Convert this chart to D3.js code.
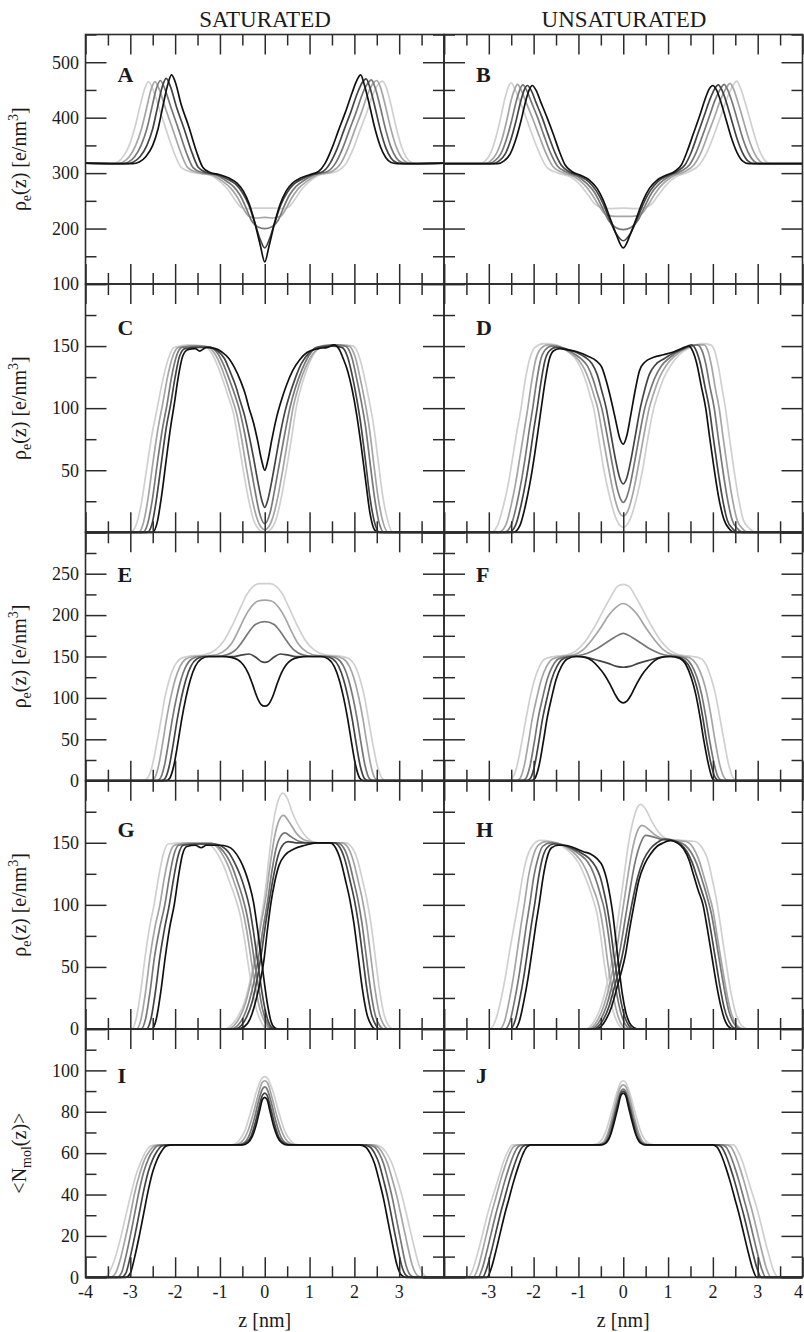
<!DOCTYPE html>
<html>
<head>
<meta charset="utf-8">
<title>Electron density profiles</title>
<script src="https://cdnjs.cloudflare.com/ajax/libs/d3/7.8.5/d3.min.js"></script>
<style>
  body { margin: 0; background: #fff; }
  svg text { font-family: "Liberation Serif", "Times New Roman", serif; fill: #1a1a1a; }
</style>
</head>
<body>
<div id="chart"></div>
<script>
// ---- data: [z (nm), value] per curve, index 0 = black ... 4 = lightest ----
var zMajor = [-4, -3, -2, -1, 0, 1, 2, 3, 4];
var zMinor = [-3.5, -2.5, -1.5, -0.5, 0.5, 1.5, 2.5, 3.5];
var zLabelsLeft = [-4, -3, -2, -1, 0, 1, 2, 3];
var zLabelsRight = [-3, -2, -1, 0, 1, 2, 3, 4];
var shades = ["#111111", "#444444", "#777777", "#a5a5a5", "#d0d0d0"];

var satA = [
  [[-4,318],[-2.95,317],[-2.8,320],[-2.65,330],[-2.5,350],[-2.38,380],[-2.27,422],[-2.17,458],[-2.08,477],[-1.98,460],[-1.87,425],[-1.7,385],[-1.52,338],[-1.38,310],[-1.22,301],[-1.0,297],[-0.8,291],[-0.62,282],[-0.48,268],[-0.35,245],[-0.22,210],[-0.1,170],[0,140],[0.1,170],[0.22,210],[0.35,245],[0.48,268],[0.62,282],[0.8,291],[1.0,297],[1.2,303],[1.35,318],[1.5,345],[1.65,378],[1.8,410],[1.95,445],[2.06,468],[2.14,477],[2.22,460],[2.33,425],[2.46,380],[2.58,348],[2.7,328],[2.82,319],[2.95,317],[4,318]],
  [[-4,318],[-3.08,317],[-2.93,320],[-2.78,330],[-2.63,350],[-2.5,380],[-2.39,420],[-2.29,455],[-2.2,471],[-2.1,455],[-1.98,422],[-1.8,380],[-1.62,336],[-1.48,310],[-1.3,301],[-1.05,297],[-0.85,290],[-0.65,280],[-0.5,265],[-0.36,243],[-0.22,210],[-0.1,180],[0,165],[0.1,180],[0.22,210],[0.36,243],[0.5,265],[0.65,280],[0.85,290],[1.05,297],[1.3,303],[1.46,318],[1.62,345],[1.77,378],[1.92,410],[2.07,445],[2.18,464],[2.26,470],[2.34,456],[2.45,422],[2.58,378],[2.7,346],[2.82,327],[2.94,319],[3.07,317],[4,318]],
  [[-4,318],[-3.18,317],[-3.04,320],[-2.9,330],[-2.76,350],[-2.63,380],[-2.52,418],[-2.42,452],[-2.33,467],[-2.23,452],[-2.1,420],[-1.92,378],[-1.74,335],[-1.6,310],[-1.4,301],[-1.1,297],[-0.9,288],[-0.7,276],[-0.55,260],[-0.42,238],[-0.3,215],[-0.15,203],[0,200],[0.15,203],[0.3,215],[0.42,238],[0.55,260],[0.7,276],[0.9,288],[1.1,297],[1.4,303],[1.58,318],[1.74,345],[1.89,378],[2.04,410],[2.19,445],[2.3,462],[2.38,468],[2.46,455],[2.57,422],[2.7,378],[2.82,346],[2.94,327],[3.06,319],[3.18,317],[4,318]],
  [[-4,318],[-3.3,317],[-3.16,320],[-3.02,330],[-2.88,350],[-2.75,380],[-2.64,416],[-2.54,450],[-2.45,465],[-2.35,450],[-2.22,418],[-2.04,376],[-1.86,334],[-1.72,310],[-1.5,301],[-1.15,296],[-0.95,286],[-0.75,272],[-0.6,255],[-0.47,235],[-0.35,222],[-0.2,219],[0,220],[0.2,219],[0.35,222],[0.47,235],[0.6,255],[0.75,272],[0.95,286],[1.15,296],[1.5,303],[1.7,318],[1.86,345],[2.01,378],[2.16,410],[2.31,445],[2.42,462],[2.5,467],[2.58,455],[2.69,422],[2.82,378],[2.94,346],[3.06,327],[3.18,319],[3.3,317],[4,318]],
  [[-4,318],[-3.42,317],[-3.28,320],[-3.14,332],[-3.0,355],[-2.88,388],[-2.77,425],[-2.68,452],[-2.6,465],[-2.5,452],[-2.37,420],[-2.2,378],[-2.02,336],[-1.86,310],[-1.6,301],[-1.2,296],[-1.0,285],[-0.8,268],[-0.65,250],[-0.52,238],[-0.4,236],[-0.2,237],[0,237],[0.2,237],[0.4,236],[0.52,238],[0.65,250],[0.8,268],[1.0,285],[1.2,296],[1.6,303],[1.82,318],[1.98,345],[2.13,378],[2.28,410],[2.43,445],[2.55,462],[2.63,466],[2.71,455],[2.82,422],[2.94,380],[3.05,348],[3.16,328],[3.28,319],[3.42,317],[4,318]]
];

var unsatB = [
  [[-4,317],[-2.8,317],[-2.66,322],[-2.52,335],[-2.4,360],[-2.28,395],[-2.17,432],[-2.09,452],[-2.03,458],[-1.95,450],[-1.84,428],[-1.7,400],[-1.56,370],[-1.42,338],[-1.3,315],[-1.15,303],[-0.95,296],[-0.75,287],[-0.58,272],[-0.44,250],[-0.3,220],[-0.16,190],[0,165],[0.16,190],[0.3,220],[0.44,250],[0.58,272],[0.75,287],[0.95,296],[1.15,303],[1.3,315],[1.42,338],[1.56,370],[1.7,402],[1.82,432],[1.92,452],[2.0,458],[2.08,450],[2.18,428],[2.3,395],[2.42,362],[2.54,337],[2.66,322],[2.8,317],[4,317]],
  [[-4,317],[-2.9,317],[-2.77,322],[-2.63,335],[-2.51,360],[-2.39,395],[-2.28,432],[-2.2,452],[-2.14,458],[-2.06,450],[-1.95,428],[-1.81,400],[-1.67,368],[-1.52,336],[-1.38,314],[-1.2,302],[-0.98,295],[-0.78,285],[-0.6,268],[-0.45,245],[-0.3,215],[-0.15,190],[0,178],[0.15,190],[0.3,215],[0.45,245],[0.6,268],[0.78,285],[0.98,295],[1.2,303],[1.38,315],[1.52,338],[1.66,370],[1.8,402],[1.93,432],[2.04,452],[2.12,459],[2.2,450],[2.3,428],[2.42,395],[2.54,362],[2.66,337],[2.78,322],[2.92,317],[4,317]],
  [[-4,317],[-3.0,317],[-2.87,322],[-2.73,335],[-2.61,360],[-2.49,395],[-2.38,432],[-2.3,452],[-2.24,459],[-2.16,450],[-2.05,428],[-1.91,400],[-1.77,368],[-1.62,336],[-1.47,313],[-1.27,302],[-1.02,294],[-0.82,282],[-0.64,265],[-0.48,240],[-0.33,215],[-0.17,202],[0,198],[0.17,202],[0.33,215],[0.48,240],[0.64,265],[0.82,282],[1.02,294],[1.27,303],[1.48,315],[1.63,338],[1.78,370],[1.92,402],[2.05,432],[2.17,452],[2.25,460],[2.33,450],[2.43,428],[2.55,395],[2.67,362],[2.79,337],[2.91,322],[3.04,317],[4,317]],
  [[-4,317],[-3.08,317],[-2.96,322],[-2.83,335],[-2.71,360],[-2.6,395],[-2.5,432],[-2.42,452],[-2.36,460],[-2.28,450],[-2.17,428],[-2.02,398],[-1.87,366],[-1.72,335],[-1.57,312],[-1.35,301],[-1.08,293],[-0.88,280],[-0.7,262],[-0.55,242],[-0.4,226],[-0.2,222],[0,222],[0.2,222],[0.4,226],[0.55,242],[0.7,262],[0.88,280],[1.08,293],[1.35,302],[1.58,315],[1.74,338],[1.89,370],[2.04,402],[2.17,432],[2.3,454],[2.38,462],[2.46,452],[2.56,428],[2.68,395],[2.8,362],[2.92,337],[3.04,322],[3.16,317],[4,317]],
  [[-4,317],[-3.2,317],[-3.08,322],[-2.96,336],[-2.85,362],[-2.74,398],[-2.64,435],[-2.56,456],[-2.5,463],[-2.42,452],[-2.3,428],[-2.15,396],[-2.0,362],[-1.85,332],[-1.7,310],[-1.45,300],[-1.15,292],[-0.95,278],[-0.78,260],[-0.63,244],[-0.5,238],[-0.3,236],[0,237],[0.3,236],[0.5,238],[0.63,244],[0.78,260],[0.95,278],[1.15,292],[1.45,302],[1.7,315],[1.87,338],[2.03,370],[2.18,404],[2.32,436],[2.45,458],[2.53,466],[2.61,455],[2.71,430],[2.83,396],[2.95,362],[3.06,337],[3.17,322],[3.3,317],[4,317]]
];

var satC = [
  [[-4,0],[-2.5,0],[-2.4,8],[-2.3,30],[-2.2,58],[-2.1,85],[-2.02,103],[-1.93,125],[-1.83,142],[-1.72,147],[-1.55,148],[-1.45,146],[-1.3,149],[-1.1,148],[-0.95,145],[-0.8,140],[-0.68,133],[-0.54,122],[-0.44,112],[-0.35,100],[-0.25,88],[-0.16,74],[-0.07,58],[0,50],[0.07,58],[0.16,75],[0.26,92],[0.36,105],[0.48,118],[0.62,130],[0.78,139],[0.95,145],[1.2,148],[1.4,149],[1.55,151],[1.65,148],[1.75,140],[1.85,130],[1.95,115],[2.05,95],[2.15,70],[2.25,42],[2.35,15],[2.45,2],[2.55,0],[4,0]],
  [[-4,0],[-2.62,0],[-2.52,6],[-2.42,26],[-2.31,55],[-2.2,84],[-2.1,103],[-2.0,125],[-1.9,142],[-1.78,148],[-1.5,149],[-1.25,149],[-1.05,146],[-0.9,140],[-0.78,130],[-0.65,118],[-0.55,106],[-0.45,94],[-0.35,78],[-0.25,60],[-0.15,40],[-0.06,25],[0,20],[0.06,25],[0.15,40],[0.25,60],[0.35,80],[0.45,97],[0.55,110],[0.68,124],[0.82,136],[1.0,145],[1.2,149],[1.5,150],[1.72,149],[1.86,140],[1.96,125],[2.05,108],[2.14,88],[2.24,60],[2.34,30],[2.45,8],[2.56,0],[4,0]],
  [[-4,0],[-2.72,0],[-2.62,6],[-2.51,26],[-2.4,55],[-2.28,84],[-2.18,103],[-2.08,125],[-1.97,142],[-1.85,149],[-1.5,150],[-1.2,149],[-1.05,144],[-0.92,135],[-0.8,124],[-0.68,112],[-0.56,98],[-0.45,80],[-0.34,58],[-0.23,36],[-0.12,16],[0,7],[0.12,16],[0.23,36],[0.34,58],[0.45,80],[0.56,100],[0.68,116],[0.82,130],[0.98,142],[1.15,149],[1.5,151],[1.8,150],[1.95,140],[2.05,124],[2.15,106],[2.25,85],[2.35,56],[2.45,28],[2.55,8],[2.66,0],[4,0]],
  [[-4,0],[-2.82,0],[-2.72,6],[-2.61,26],[-2.5,55],[-2.38,84],[-2.28,103],[-2.17,125],[-2.05,142],[-1.93,149],[-1.6,150],[-1.25,149],[-1.1,143],[-0.98,134],[-0.86,122],[-0.75,110],[-0.63,96],[-0.52,76],[-0.41,52],[-0.3,30],[-0.18,12],[-0.08,4],[0,2],[0.08,4],[0.18,12],[0.3,30],[0.41,52],[0.52,76],[0.63,100],[0.76,118],[0.9,132],[1.06,143],[1.25,149],[1.6,151],[1.88,150],[2.02,141],[2.13,124],[2.23,106],[2.33,85],[2.43,56],[2.53,28],[2.64,8],[2.76,0],[4,0]],
  [[-4,0],[-3.0,0],[-2.88,5],[-2.76,22],[-2.64,50],[-2.52,78],[-2.4,100],[-2.28,122],[-2.15,140],[-2.02,149],[-1.7,151],[-1.35,150],[-1.18,144],[-1.05,134],[-0.93,122],[-0.82,110],[-0.7,96],[-0.59,74],[-0.48,50],[-0.37,28],[-0.25,10],[-0.12,2],[0,0],[0.12,2],[0.25,10],[0.37,28],[0.48,50],[0.59,74],[0.7,100],[0.82,118],[0.96,133],[1.1,144],[1.3,150],[1.7,151],[1.98,150],[2.12,140],[2.23,124],[2.33,106],[2.43,86],[2.53,58],[2.63,30],[2.74,10],[2.86,0],[4,0]]
];

var unsatD = [
  [[-4,0],[-2.45,0],[-2.3,6],[-2.18,22],[-2.08,40],[-1.98,62],[-1.9,82],[-1.83,100],[-1.75,120],[-1.66,138],[-1.56,146],[-1.42,148],[-1.25,147],[-1.0,145],[-0.8,142],[-0.6,138],[-0.48,133],[-0.38,122],[-0.28,108],[-0.18,92],[-0.08,76],[0,71],[0.08,78],[0.17,95],[0.27,115],[0.36,130],[0.48,137],[0.68,141],[0.9,143],[1.1,145],[1.3,148],[1.46,150],[1.55,146],[1.64,136],[1.74,118],[1.84,100],[1.93,76],[2.02,53],[2.12,30],[2.25,10],[2.36,3],[2.47,0],[4,0]],
  [[-4,0],[-2.55,0],[-2.4,6],[-2.28,22],[-2.18,40],[-2.08,62],[-2.0,82],[-1.92,100],[-1.84,120],[-1.75,138],[-1.65,146],[-1.5,149],[-1.3,148],[-1.05,145],[-0.85,141],[-0.7,136],[-0.58,127],[-0.48,114],[-0.38,100],[-0.28,80],[-0.18,60],[-0.08,44],[0,39],[0.08,44],[0.18,60],[0.28,80],[0.38,100],[0.48,115],[0.58,127],[0.72,135],[0.92,140],[1.15,145],[1.35,148],[1.52,151],[1.62,147],[1.72,136],[1.82,118],[1.92,100],[2.01,76],[2.1,53],[2.2,30],[2.32,10],[2.44,3],[2.56,0],[4,0]],
  [[-4,0],[-2.65,0],[-2.5,6],[-2.38,22],[-2.28,40],[-2.18,62],[-2.1,82],[-2.02,100],[-1.94,120],[-1.85,138],[-1.74,147],[-1.6,150],[-1.4,149],[-1.15,145],[-0.95,140],[-0.8,134],[-0.68,124],[-0.58,112],[-0.48,100],[-0.37,80],[-0.26,58],[-0.14,36],[-0.05,26],[0,24],[0.05,26],[0.14,36],[0.26,58],[0.37,80],[0.48,100],[0.58,112],[0.7,124],[0.85,134],[1.05,141],[1.3,147],[1.5,150],[1.65,151],[1.75,147],[1.84,136],[1.93,118],[2.03,100],[2.12,76],[2.21,53],[2.31,30],[2.43,10],[2.55,3],[2.67,0],[4,0]],
  [[-4,0],[-2.78,0],[-2.62,6],[-2.5,22],[-2.4,40],[-2.3,62],[-2.21,82],[-2.13,100],[-2.05,120],[-1.96,138],[-1.84,148],[-1.68,151],[-1.45,150],[-1.2,145],[-1.0,139],[-0.86,131],[-0.75,121],[-0.66,111],[-0.57,100],[-0.46,78],[-0.34,54],[-0.22,32],[-0.1,17],[0,13],[0.1,17],[0.22,32],[0.34,54],[0.46,78],[0.58,100],[0.68,112],[0.8,124],[0.95,134],[1.15,142],[1.4,148],[1.65,151],[1.8,151],[1.89,146],[1.97,134],[2.05,117],[2.14,100],[2.23,76],[2.32,53],[2.42,30],[2.54,10],[2.66,3],[2.78,0],[4,0]],
  [[-4,0],[-2.95,0],[-2.8,6],[-2.67,22],[-2.56,40],[-2.46,62],[-2.37,82],[-2.28,100],[-2.2,120],[-2.1,138],[-1.97,149],[-1.78,152],[-1.5,151],[-1.25,146],[-1.05,139],[-0.92,130],[-0.82,120],[-0.74,110],[-0.66,100],[-0.55,76],[-0.43,50],[-0.3,28],[-0.16,11],[-0.06,5],[0,4],[0.06,5],[0.16,11],[0.3,28],[0.43,50],[0.55,76],[0.68,100],[0.78,112],[0.9,124],[1.05,134],[1.25,143],[1.5,149],[1.75,152],[1.95,151],[2.04,146],[2.12,134],[2.2,117],[2.28,100],[2.37,76],[2.46,53],[2.56,30],[2.68,10],[2.82,3],[2.98,0],[4,0]]
];

var satE = [
  [[-4,0],[-2.2,0],[-2.12,3],[-2.03,18],[-1.94,45],[-1.85,75],[-1.76,100],[-1.66,122],[-1.55,138],[-1.42,147],[-1.25,150],[-0.95,150],[-0.75,149],[-0.6,146],[-0.48,140],[-0.37,130],[-0.27,116],[-0.18,102],[-0.08,92],[0,90],[0.08,92],[0.18,102],[0.27,116],[0.37,130],[0.48,140],[0.6,146],[0.75,149],[0.95,150],[1.25,150],[1.42,147],[1.55,138],[1.66,122],[1.76,100],[1.85,75],[1.94,45],[2.03,18],[2.12,3],[2.2,0],[4,0]],
  [[-4,0],[-2.3,0],[-2.22,3],[-2.13,18],[-2.04,45],[-1.95,75],[-1.86,100],[-1.76,122],[-1.65,138],[-1.52,147],[-1.35,150],[-1.0,150],[-0.7,150],[-0.5,152],[-0.35,153],[-0.2,149],[-0.08,144],[0,143],[0.08,144],[0.2,149],[0.35,153],[0.5,152],[0.7,150],[1.0,150],[1.35,150],[1.52,147],[1.65,138],[1.76,122],[1.86,100],[1.95,75],[2.04,45],[2.13,18],[2.22,3],[2.3,0],[4,0]],
  [[-4,0],[-2.42,0],[-2.33,3],[-2.24,18],[-2.15,45],[-2.06,75],[-1.97,100],[-1.87,122],[-1.76,138],[-1.63,147],[-1.45,150],[-1.1,150],[-0.85,152],[-0.65,158],[-0.5,168],[-0.35,180],[-0.2,189],[0,192],[0.2,189],[0.35,180],[0.5,168],[0.65,158],[0.85,152],[1.1,150],[1.45,150],[1.63,147],[1.76,138],[1.87,122],[1.97,100],[2.06,75],[2.15,45],[2.24,18],[2.33,3],[2.42,0],[4,0]],
  [[-4,0],[-2.55,0],[-2.46,3],[-2.37,18],[-2.28,45],[-2.19,75],[-2.1,100],[-2.0,122],[-1.89,138],[-1.76,147],[-1.58,150],[-1.2,151],[-0.95,155],[-0.75,165],[-0.6,180],[-0.45,197],[-0.3,210],[-0.15,217],[0,218],[0.15,217],[0.3,210],[0.45,197],[0.6,180],[0.75,165],[0.95,155],[1.2,151],[1.58,150],[1.76,147],[1.89,138],[2.0,122],[2.1,100],[2.19,75],[2.28,45],[2.37,18],[2.46,3],[2.55,0],[4,0]],
  [[-4,0],[-2.72,0],[-2.62,3],[-2.52,16],[-2.42,42],[-2.32,72],[-2.23,100],[-2.13,122],[-2.02,138],[-1.89,147],[-1.72,150],[-1.35,152],[-1.1,158],[-0.9,170],[-0.72,188],[-0.55,208],[-0.4,225],[-0.25,235],[-0.12,238],[0,238],[0.12,238],[0.25,235],[0.4,225],[0.55,208],[0.72,188],[0.9,170],[1.1,158],[1.35,152],[1.72,150],[1.89,147],[2.02,138],[2.13,122],[2.23,100],[2.32,72],[2.42,42],[2.52,16],[2.62,3],[2.72,0],[4,0]]
];

var unsatF = [
  [[-4,0],[-2.05,0],[-1.97,3],[-1.88,18],[-1.79,45],[-1.7,75],[-1.6,100],[-1.5,122],[-1.38,138],[-1.25,147],[-1.05,150],[-0.85,149],[-0.7,145],[-0.55,137],[-0.42,128],[-0.3,117],[-0.18,104],[-0.08,96],[0,94],[0.08,96],[0.18,104],[0.3,117],[0.42,128],[0.55,137],[0.7,145],[0.85,149],[1.05,150],[1.25,148],[1.4,140],[1.52,124],[1.62,104],[1.71,78],[1.8,48],[1.9,20],[1.98,4],[2.05,0],[4,0]],
  [[-4,0],[-2.15,0],[-2.07,3],[-1.98,18],[-1.89,45],[-1.8,75],[-1.7,100],[-1.6,122],[-1.48,138],[-1.35,147],[-1.15,150],[-0.95,150],[-0.75,148],[-0.55,145],[-0.35,142],[-0.15,138],[0,137],[0.15,138],[0.35,142],[0.55,145],[0.75,148],[0.95,150],[1.15,150],[1.3,148],[1.45,140],[1.58,124],[1.68,104],[1.77,78],[1.86,48],[1.96,20],[2.05,4],[2.14,0],[4,0]],
  [[-4,0],[-2.25,0],[-2.17,3],[-2.08,18],[-1.99,45],[-1.9,75],[-1.8,100],[-1.7,122],[-1.58,138],[-1.45,147],[-1.25,150],[-1.0,151],[-0.8,154],[-0.6,159],[-0.4,166],[-0.2,173],[0,178],[0.2,173],[0.4,166],[0.6,159],[0.8,154],[1.0,151],[1.22,150],[1.38,148],[1.52,140],[1.65,124],[1.75,104],[1.84,78],[1.93,48],[2.03,20],[2.12,4],[2.22,0],[4,0]],
  [[-4,0],[-2.38,0],[-2.3,3],[-2.21,18],[-2.12,45],[-2.03,75],[-1.93,100],[-1.83,122],[-1.71,138],[-1.58,147],[-1.38,150],[-1.1,152],[-0.9,158],[-0.7,170],[-0.5,185],[-0.32,200],[-0.15,210],[0,214],[0.15,210],[0.32,200],[0.5,185],[0.7,170],[0.9,158],[1.1,152],[1.35,150],[1.5,148],[1.64,140],[1.77,124],[1.87,104],[1.96,78],[2.05,48],[2.15,20],[2.25,4],[2.35,0],[4,0]],
  [[-4,0],[-2.58,0],[-2.48,3],[-2.38,16],[-2.28,42],[-2.18,72],[-2.08,100],[-1.98,122],[-1.87,138],[-1.75,147],[-1.55,150],[-1.25,152],[-1.05,157],[-0.85,168],[-0.65,185],[-0.45,205],[-0.28,222],[-0.12,235],[0,237],[0.12,235],[0.28,222],[0.45,205],[0.65,185],[0.85,168],[1.05,157],[1.25,152],[1.55,150],[1.72,148],[1.85,140],[1.96,124],[2.06,104],[2.15,78],[2.25,48],[2.35,20],[2.45,4],[2.56,0],[4,0]]
];

// G and H: the two leaflets drawn as separate curves
var satGlow = [
  [[-4,0],[-2.52,0],[-2.42,8],[-2.32,30],[-2.22,58],[-2.12,82],[-2.02,100],[-1.93,122],[-1.84,140],[-1.74,147],[-1.55,148],[-1.42,146],[-1.3,148],[-1.0,148],[-0.83,147],[-0.7,144],[-0.55,136],[-0.45,128],[-0.35,117],[-0.25,102],[-0.16,80],[-0.08,58],[0,35],[0.07,18],[0.14,6],[0.22,1],[0.3,0],[4,0]],
  [[-4,0],[-2.64,0],[-2.54,8],[-2.44,30],[-2.34,58],[-2.23,82],[-2.13,100],[-2.03,122],[-1.93,140],[-1.82,148],[-1.5,149],[-1.1,149],[-0.95,147],[-0.8,142],[-0.66,133],[-0.55,124],[-0.44,112],[-0.34,98],[-0.25,78],[-0.16,55],[-0.08,34],[0,17],[0.08,6],[0.16,1],[0.24,0],[4,0]],
  [[-4,0],[-2.76,0],[-2.66,8],[-2.56,30],[-2.46,58],[-2.34,82],[-2.23,100],[-2.13,122],[-2.03,140],[-1.92,148],[-1.6,149],[-1.15,149],[-1.0,146],[-0.86,140],[-0.73,131],[-0.62,120],[-0.51,108],[-0.41,94],[-0.31,74],[-0.22,52],[-0.13,32],[-0.05,16],[0.04,6],[0.12,1],[0.2,0],[4,0]],
  [[-4,0],[-2.86,0],[-2.76,8],[-2.66,30],[-2.56,58],[-2.45,82],[-2.34,100],[-2.24,122],[-2.13,140],[-2.02,148],[-1.7,150],[-1.2,150],[-1.05,146],[-0.92,139],[-0.8,130],[-0.68,118],[-0.57,106],[-0.47,92],[-0.37,72],[-0.28,50],[-0.19,30],[-0.1,15],[0,6],[0.08,1],[0.16,0],[4,0]],
  [[-4,0],[-2.97,0],[-2.87,8],[-2.77,30],[-2.67,58],[-2.57,82],[-2.47,100],[-2.37,122],[-2.27,140],[-2.16,149],[-1.8,150],[-1.3,150],[-1.15,146],[-1.02,139],[-0.9,130],[-0.78,118],[-0.66,106],[-0.55,92],[-0.45,72],[-0.36,50],[-0.27,30],[-0.18,15],[-0.08,6],[0,1],[0.08,0],[4,0]]
];
var satGup = [
  [[-4,0],[-0.6,0],[-0.45,2],[-0.33,8],[-0.22,20],[-0.12,35],[-0.02,55],[0.06,80],[0.14,102],[0.22,118],[0.32,132],[0.45,140],[0.65,145],[0.9,148],[1.15,150],[1.46,150],[1.58,146],[1.7,135],[1.8,120],[1.9,104],[1.99,85],[2.08,60],[2.18,32],[2.28,12],[2.38,3],[2.46,0],[4,0]],
  [[-4,0],[-0.66,0],[-0.52,3],[-0.4,10],[-0.28,22],[-0.17,40],[-0.07,62],[0.02,85],[0.1,103],[0.2,124],[0.3,140],[0.42,149],[0.52,151],[0.7,150],[1.25,150],[1.55,150],[1.68,146],[1.8,135],[1.9,120],[2.0,104],[2.09,85],[2.18,60],[2.28,32],[2.38,12],[2.48,3],[2.56,0],[4,0]],
  [[-4,0],[-0.74,0],[-0.6,3],[-0.47,10],[-0.35,22],[-0.23,40],[-0.12,62],[-0.02,85],[0.06,102],[0.15,125],[0.25,145],[0.35,155],[0.45,158],[0.58,155],[0.78,151],[1.0,150],[1.62,150],[1.76,146],[1.88,135],[1.98,120],[2.08,104],[2.17,85],[2.26,60],[2.36,32],[2.46,12],[2.56,3],[2.65,0],[4,0]],
  [[-4,0],[-0.82,0],[-0.68,3],[-0.55,10],[-0.42,22],[-0.3,40],[-0.18,62],[-0.08,85],[0.02,105],[0.12,132],[0.22,155],[0.32,168],[0.42,172],[0.54,167],[0.7,158],[0.9,152],[1.2,150],[1.72,150],[1.86,146],[1.98,135],[2.08,120],[2.18,104],[2.27,85],[2.36,60],[2.46,32],[2.56,12],[2.66,3],[2.76,0],[4,0]],
  [[-4,0],[-0.9,0],[-0.75,3],[-0.6,10],[-0.45,22],[-0.32,40],[-0.2,62],[-0.1,85],[0.0,108],[0.1,140],[0.2,168],[0.3,184],[0.4,190],[0.5,186],[0.62,174],[0.78,162],[0.95,154],[1.15,150],[1.8,150],[1.95,146],[2.08,135],[2.18,120],[2.28,104],[2.37,85],[2.46,60],[2.56,32],[2.66,12],[2.76,3],[2.86,0],[4,0]]
];

var unsatHlow = [
  [[-4,0],[-2.42,0],[-2.32,6],[-2.22,22],[-2.12,42],[-2.03,64],[-1.95,84],[-1.87,102],[-1.79,122],[-1.7,138],[-1.6,146],[-1.45,148],[-1.3,148],[-1.1,146],[-0.9,143],[-0.73,141],[-0.58,137],[-0.46,131],[-0.38,122],[-0.3,108],[-0.23,92],[-0.16,70],[-0.09,48],[-0.02,28],[0.06,13],[0.14,5],[0.24,1],[0.32,0],[4,0]],
  [[-4,0],[-2.52,0],[-2.42,6],[-2.32,22],[-2.22,42],[-2.13,64],[-2.05,84],[-1.97,102],[-1.89,122],[-1.8,138],[-1.7,146],[-1.55,149],[-1.35,148],[-1.1,145],[-0.9,141],[-0.75,137],[-0.62,131],[-0.52,123],[-0.44,112],[-0.37,100],[-0.29,82],[-0.21,60],[-0.13,40],[-0.05,22],[0.03,10],[0.12,3],[0.22,0],[4,0]],
  [[-4,0],[-2.64,0],[-2.53,6],[-2.43,22],[-2.33,42],[-2.24,64],[-2.16,84],[-2.08,102],[-2.0,122],[-1.9,138],[-1.8,147],[-1.62,150],[-1.4,149],[-1.15,145],[-0.95,140],[-0.8,135],[-0.68,127],[-0.58,117],[-0.5,107],[-0.42,96],[-0.34,78],[-0.26,56],[-0.18,36],[-0.1,20],[-0.01,8],[0.08,2],[0.18,0],[4,0]],
  [[-4,0],[-2.76,0],[-2.65,6],[-2.55,22],[-2.45,42],[-2.36,64],[-2.28,84],[-2.2,102],[-2.12,122],[-2.02,138],[-1.9,148],[-1.72,151],[-1.5,150],[-1.25,146],[-1.05,140],[-0.9,133],[-0.78,124],[-0.68,114],[-0.58,104],[-0.5,92],[-0.42,74],[-0.34,52],[-0.25,32],[-0.16,16],[-0.07,6],[0.03,1],[0.12,0],[4,0]],
  [[-4,0],[-2.98,0],[-2.86,6],[-2.74,22],[-2.63,42],[-2.53,64],[-2.43,84],[-2.34,102],[-2.25,122],[-2.15,138],[-2.02,148],[-1.85,152],[-1.6,151],[-1.35,147],[-1.15,141],[-1.0,134],[-0.88,125],[-0.77,115],[-0.67,104],[-0.58,92],[-0.5,74],[-0.42,52],[-0.33,32],[-0.24,16],[-0.14,6],[-0.04,1],[0.05,0],[4,0]]
];
var unsatHup = [
  [[-4,0],[-0.62,0],[-0.5,2],[-0.38,8],[-0.26,18],[-0.15,32],[-0.05,45],[0.05,60],[0.14,80],[0.24,100],[0.35,120],[0.48,133],[0.61,141],[0.75,147],[0.9,150],[1.05,152],[1.2,150],[1.35,145],[1.47,136],[1.57,124],[1.67,112],[1.78,100],[1.88,80],[1.98,58],[2.08,36],[2.18,18],[2.28,6],[2.38,1],[2.46,0],[4,0]],
  [[-4,0],[-0.68,0],[-0.56,2],[-0.44,8],[-0.32,18],[-0.21,32],[-0.1,47],[0.0,63],[0.1,83],[0.2,102],[0.32,122],[0.45,136],[0.6,145],[0.75,150],[0.92,153],[1.1,152],[1.28,149],[1.42,143],[1.54,134],[1.65,122],[1.76,110],[1.86,98],[1.96,78],[2.06,56],[2.16,34],[2.26,16],[2.36,6],[2.46,1],[2.54,0],[4,0]],
  [[-4,0],[-0.74,0],[-0.62,2],[-0.5,8],[-0.38,18],[-0.27,32],[-0.16,48],[-0.06,66],[0.04,88],[0.14,110],[0.25,132],[0.37,148],[0.5,156],[0.65,155],[0.82,153],[1.0,152],[1.2,151],[1.38,148],[1.52,142],[1.64,133],[1.75,121],[1.86,108],[1.96,94],[2.06,74],[2.16,52],[2.26,31],[2.36,14],[2.46,5],[2.56,1],[2.64,0],[4,0]],
  [[-4,0],[-0.8,0],[-0.68,2],[-0.56,8],[-0.44,18],[-0.33,32],[-0.22,50],[-0.12,70],[-0.02,94],[0.08,118],[0.19,142],[0.3,158],[0.42,164],[0.56,161],[0.72,156],[0.9,153],[1.15,152],[1.4,151],[1.56,146],[1.68,137],[1.79,124],[1.9,110],[2.0,96],[2.1,74],[2.2,52],[2.3,31],[2.4,14],[2.5,5],[2.6,1],[2.7,0],[4,0]],
  [[-4,0],[-0.86,0],[-0.74,2],[-0.62,8],[-0.5,18],[-0.39,32],[-0.28,50],[-0.18,72],[-0.08,98],[0.02,124],[0.12,150],[0.22,168],[0.31,178],[0.39,181],[0.5,177],[0.64,167],[0.8,158],[1.0,153],[1.3,152],[1.6,151],[1.76,146],[1.88,137],[1.99,120],[2.1,100],[2.2,76],[2.3,52],[2.4,30],[2.5,14],[2.6,5],[2.7,1],[2.78,0],[4,0]]
];

var satI = [
  [[-4,0],[-3.1,0],[-3.0,2],[-2.9,10],[-2.8,20],[-2.7,31],[-2.6,42],[-2.5,51],[-2.4,57],[-2.3,61],[-2.2,63.5],[-2.05,64],[-0.5,64],[-0.38,65],[-0.28,68],[-0.2,73],[-0.12,80],[-0.05,86],[0,87],[0.05,86],[0.12,80],[0.2,73],[0.28,68],[0.38,65],[0.5,64],[2.1,64],[2.25,63],[2.35,60],[2.45,55],[2.55,47],[2.65,38],[2.75,27],[2.85,16],[2.95,6],[3.05,1],[3.15,0],[4,0]],
  [[-4,0],[-3.2,0],[-3.1,2],[-3.0,10],[-2.9,20],[-2.8,31],[-2.7,42],[-2.6,51],[-2.5,57],[-2.4,61],[-2.3,63.5],[-2.15,64],[-0.55,64],[-0.42,65],[-0.31,68],[-0.22,74],[-0.13,82],[-0.05,88],[0,89],[0.05,88],[0.13,82],[0.22,74],[0.31,68],[0.42,65],[0.55,64],[2.2,64],[2.35,63],[2.45,60],[2.55,55],[2.65,47],[2.75,38],[2.85,27],[2.95,16],[3.05,6],[3.15,1],[3.25,0],[4,0]],
  [[-4,0],[-3.3,0],[-3.2,2],[-3.1,10],[-3.0,20],[-2.9,31],[-2.8,42],[-2.7,51],[-2.6,57],[-2.5,61],[-2.4,63.5],[-2.25,64],[-0.6,64],[-0.46,65],[-0.34,69],[-0.24,76],[-0.14,85],[-0.05,91],[0,92],[0.05,91],[0.14,85],[0.24,76],[0.34,69],[0.46,65],[0.6,64],[2.3,64],[2.45,63],[2.55,60],[2.65,55],[2.75,47],[2.85,38],[2.95,27],[3.05,16],[3.15,6],[3.25,1],[3.35,0],[4,0]],
  [[-4,0],[-3.45,0],[-3.33,2],[-3.22,9],[-3.11,19],[-3.0,30],[-2.9,41],[-2.79,50],[-2.68,57],[-2.57,61],[-2.46,63.5],[-2.32,64],[-0.68,64],[-0.52,65.5],[-0.39,70],[-0.27,78],[-0.16,87],[-0.06,94],[0,95],[0.06,94],[0.16,87],[0.27,78],[0.39,70],[0.52,65.5],[0.68,64],[2.38,64],[2.52,63],[2.63,60],[2.74,55],[2.85,47],[2.96,38],[3.07,27],[3.18,16],[3.29,6],[3.4,1],[3.5,0],[4,0]],
  [[-4,0],[-3.6,0],[-3.48,2],[-3.36,8],[-3.24,17],[-3.12,28],[-3.0,39],[-2.88,49],[-2.76,56],[-2.65,61],[-2.54,63.5],[-2.4,64],[-0.75,64],[-0.58,66],[-0.44,71],[-0.31,80],[-0.18,90],[-0.07,96],[0,97],[0.07,96],[0.18,90],[0.31,80],[0.44,71],[0.58,66],[0.75,64],[2.45,64],[2.6,63],[2.72,60],[2.84,55],[2.96,47],[3.08,38],[3.2,27],[3.32,16],[3.44,6],[3.56,1],[3.66,0],[4,0]]
];

var unsatJ = [
  [[-4,0],[-3.04,0],[-2.95,4],[-2.85,12],[-2.75,21],[-2.65,30],[-2.55,38],[-2.45,46],[-2.35,53],[-2.25,59],[-2.15,63],[-2.05,64],[-0.5,64],[-0.38,65],[-0.28,69],[-0.2,75],[-0.12,82],[-0.05,88],[0,89],[0.05,88],[0.12,82],[0.2,75],[0.28,69],[0.38,65],[0.5,64],[1.99,64],[2.09,63],[2.19,59],[2.29,53],[2.39,46],[2.49,38],[2.59,30],[2.69,21],[2.79,12],[2.89,4],[2.98,0],[4,0]],
  [[-4,0],[-3.14,0],[-3.05,4],[-2.95,12],[-2.85,21],[-2.75,30],[-2.65,38],[-2.55,46],[-2.45,53],[-2.35,59],[-2.25,63],[-2.15,64],[-0.52,64],[-0.4,65],[-0.29,69],[-0.21,76],[-0.13,83],[-0.05,89],[0,90],[0.05,89],[0.13,83],[0.21,76],[0.29,69],[0.4,65],[0.52,64],[2.09,64],[2.19,63],[2.29,59],[2.39,53],[2.49,46],[2.59,38],[2.69,30],[2.79,21],[2.89,12],[2.99,4],[3.08,0],[4,0]],
  [[-4,0],[-3.24,0],[-3.15,4],[-3.05,12],[-2.95,21],[-2.85,30],[-2.75,38],[-2.65,46],[-2.55,53],[-2.45,59],[-2.35,63],[-2.25,64],[-0.55,64],[-0.42,65],[-0.31,70],[-0.22,77],[-0.14,84],[-0.05,90],[0,91],[0.05,90],[0.14,84],[0.22,77],[0.31,70],[0.42,65],[0.55,64],[2.19,64],[2.29,63],[2.39,59],[2.49,53],[2.59,46],[2.69,38],[2.79,30],[2.89,21],[2.99,12],[3.09,4],[3.18,0],[4,0]],
  [[-4,0],[-3.35,0],[-3.25,4],[-3.15,12],[-3.05,21],[-2.95,30],[-2.85,38],[-2.75,46],[-2.65,53],[-2.55,59],[-2.45,63],[-2.35,64],[-0.6,64],[-0.46,65],[-0.34,70],[-0.24,78],[-0.15,86],[-0.06,92],[0,93],[0.06,92],[0.15,86],[0.24,78],[0.34,70],[0.46,65],[0.6,64],[2.3,64],[2.4,63],[2.5,59],[2.6,53],[2.7,46],[2.8,38],[2.9,30],[3.0,21],[3.1,12],[3.2,4],[3.3,0],[4,0]],
  [[-4,0],[-3.47,0],[-3.37,3],[-3.27,10],[-3.17,18],[-3.07,27],[-2.97,35],[-2.87,42],[-2.77,49],[-2.67,56],[-2.57,61],[-2.47,64],[-0.68,64],[-0.52,65.5],[-0.38,71],[-0.26,80],[-0.16,88],[-0.06,94],[0,95],[0.06,94],[0.16,88],[0.26,80],[0.38,71],[0.52,65.5],[0.68,64],[2.46,64],[2.56,61],[2.66,56],[2.76,49],[2.86,42],[2.96,35],[3.06,27],[3.16,18],[3.26,10],[3.36,3],[3.46,0],[4,0]]
];

// ---- layout ----
var width = 804, height = 1332;
var rowEdges = [34.5, 284, 532.3, 780.7, 1029, 1277.3];
var colEdges = [[85.5, 444], [444, 802.5]];
var letterDy = [47.5, 51, 50, 56, 54];

var panels = [
  {id: "A", col: 0, row: 0, dom: [100, 550], major: 100, labels: [100, 200, 300, 400, 500], series: satA},
  {id: "B", col: 1, row: 0, dom: [100, 550], major: 100, series: unsatB},
  {id: "C", col: 0, row: 1, dom: [0, 200], major: 50, labels: [50, 100, 150], series: satC},
  {id: "D", col: 1, row: 1, dom: [0, 200], major: 50, series: unsatD},
  {id: "E", col: 0, row: 2, dom: [0, 300], major: 50, labels: [0, 50, 100, 150, 200, 250], series: satE},
  {id: "F", col: 1, row: 2, dom: [0, 300], major: 50, series: unsatF},
  {id: "G", col: 0, row: 3, dom: [0, 200], major: 50, labels: [0, 50, 100, 150], series: satGlow.concat(satGup)},
  {id: "H", col: 1, row: 3, dom: [0, 200], major: 50, series: unsatHlow.concat(unsatHup)},
  {id: "I", col: 0, row: 4, dom: [0, 120], major: 20, labels: [0, 20, 40, 60, 80, 100], series: satI},
  {id: "J", col: 1, row: 4, dom: [0, 120], major: 20, series: unsatJ}
];

var svg = d3.select("#chart").append("svg")
  .attr("width", width).attr("height", height);

// column headings
svg.append("text").attr("x", 265).attr("y", 27).attr("text-anchor", "middle")
  .style("font-size", "23px").text("SATURATED");
svg.append("text").attr("x", 624).attr("y", 27).attr("text-anchor", "middle")
  .style("font-size", "23px").text("UNSATURATED");

var line = d3.line().curve(d3.curveMonotoneX);

panels.forEach(function(p) {
  var x = d3.scaleLinear().domain([-4, 4]).range(colEdges[p.col]);
  var y = d3.scaleLinear().domain(p.dom).range([rowEdges[p.row + 1], rowEdges[p.row]]);
  var g = svg.append("g");
  var x0 = x.range()[0], x1 = x.range()[1];
  var yb = y.range()[0], yt = y.range()[1];

  // curves, lightest first
  var n = p.series.length;
  var order = d3.range(n).sort(function(a, b) { return (b % 5) - (a % 5); });
  line.x(function(d) { return x(d[0]); }).y(function(d) { return y(d[1]); });
  order.forEach(function(i) {
    g.append("path").datum(p.series[i])
      .attr("d", line)
      .attr("fill", "none")
      .attr("stroke", shades[i % 5])
      .attr("stroke-width", 1.7)
      .attr("stroke-linejoin", "round");
  });

  // inward ticks on all four sides
  var yMaj = d3.range(p.dom[0], p.dom[1] + 1e-6, p.major);
  var yMin = d3.range(p.dom[0] + p.major / 2, p.dom[1] + 1e-6, p.major);
  function ax(axis, tx, ty) {
    g.append("g").attr("transform", "translate(" + tx + "," + ty + ")")
      .attr("color", "#2b2b2b")
      .call(axis)
      .call(function(s) { s.select(".domain").remove(); s.selectAll("line").attr("stroke-width", 1.5); });
  }
  ax(d3.axisBottom(x).tickValues(zMajor).tickSize(-20).tickFormat(""), 0, yb);
  ax(d3.axisBottom(x).tickValues(zMinor).tickSize(-11).tickFormat(""), 0, yb);
  ax(d3.axisTop(x).tickValues(zMajor).tickSize(-20).tickFormat(""), 0, yt);
  ax(d3.axisTop(x).tickValues(zMinor).tickSize(-11).tickFormat(""), 0, yt);
  ax(d3.axisLeft(y).tickValues(yMaj).tickSize(-21).tickFormat(""), x0, 0);
  ax(d3.axisLeft(y).tickValues(yMin).tickSize(-11).tickFormat(""), x0, 0);
  ax(d3.axisRight(y).tickValues(yMaj).tickSize(-21).tickFormat(""), x1, 0);
  ax(d3.axisRight(y).tickValues(yMin).tickSize(-11).tickFormat(""), x1, 0);

  g.append("rect").attr("x", x0).attr("y", yt)
    .attr("width", x1 - x0).attr("height", yb - yt)
    .attr("fill", "none").attr("stroke", "#2b2b2b").attr("stroke-width", 1.6);

  // panel letter
  g.append("text").attr("x", x0 + 32).attr("y", yt + letterDy[p.row])
    .style("font-size", "22px").style("font-weight", "bold").text(p.id);

  // y tick labels (left column only)
  if (p.labels) {
    p.labels.forEach(function(v) {
      g.append("text").attr("x", 79).attr("y", y(v)).attr("dy", "0.35em")
        .attr("text-anchor", "end").style("font-size", "18px").text(v);
    });
    var cy = (yb + yt) / 2;
    var t = g.append("text").attr("transform", "translate(26," + cy + ") rotate(-90)")
      .attr("text-anchor", "middle").style("font-size", "20px");
    if (p.row < 4) {
      t.append("tspan").text("\u03c1");
      t.append("tspan").attr("dy", 5).style("font-size", "14px").text("e");
      t.append("tspan").attr("dy", -5).text("(z) [e/nm");
      t.append("tspan").attr("dy", -8).style("font-size", "14px").text("3");
      t.append("tspan").attr("dy", 8).text("]");
    } else {
      t.append("tspan").text("<N");
      t.append("tspan").attr("dy", 5).style("font-size", "14px").text("mol");
      t.append("tspan").attr("dy", -5).text("(z)>");
    }
  }

  // x tick labels and title (bottom row)
  if (p.row === 4) {
    var labs = p.col === 0 ? zLabelsLeft : zLabelsRight;
    labs.forEach(function(v) {
      var edge = x(v) > width - 6;
      g.append("text").attr("x", edge ? width - 1 : x(v)).attr("y", 1298)
        .attr("text-anchor", edge ? "end" : "middle")
        .style("font-size", "18px").text(v);
    });
    g.append("text").attr("x", x(0)).attr("y", 1327).attr("text-anchor", "middle")
      .style("font-size", "20px").text("z [nm]");
  }
});
</script>
</body>
</html>
